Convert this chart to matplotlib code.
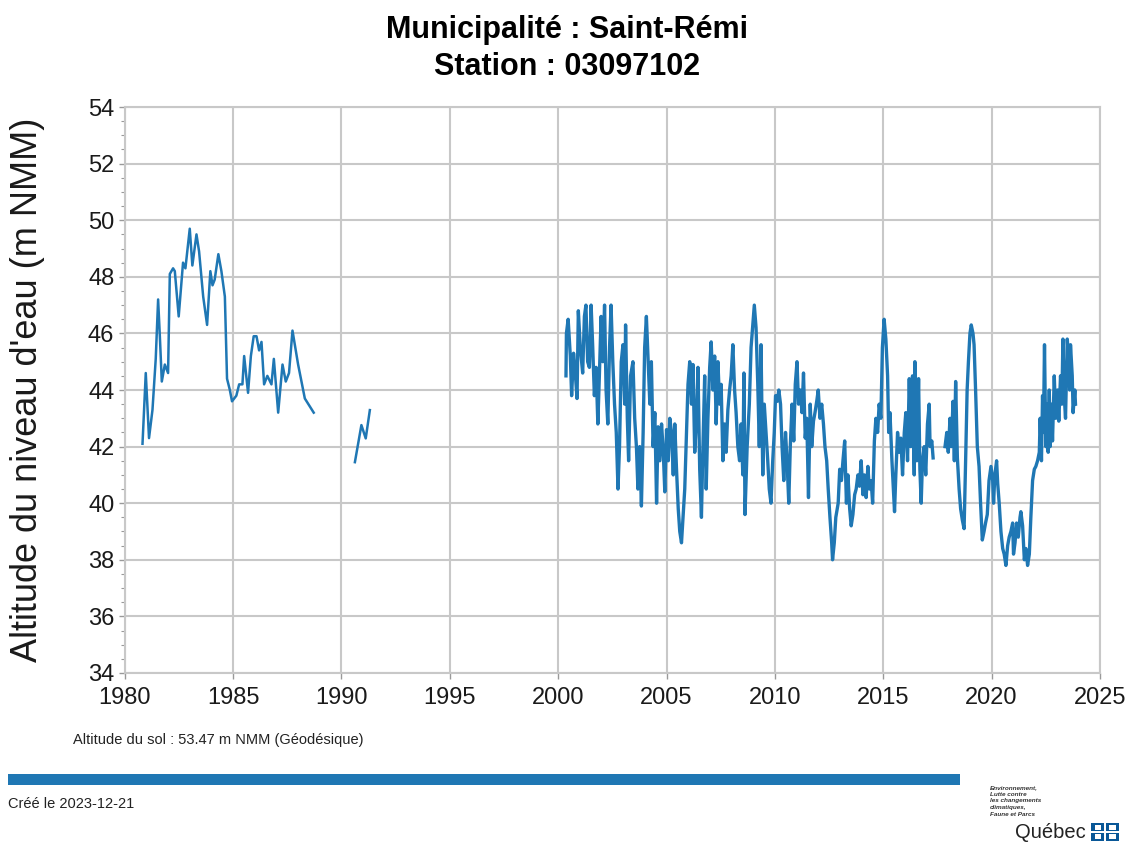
import numpy as np
import matplotlib
matplotlib.use("Agg")
import matplotlib.pyplot as plt
from matplotlib.patches import Rectangle
from matplotlib.ticker import MultipleLocator

plt.rcParams['font.family'] = ['Liberation Sans', 'DejaVu Sans']

# water level readings (m NMM)
years_1980s = [1980.82, 1980.97, 1981.12, 1981.28, 1981.43, 1981.54, 1981.62, 1981.71, 1981.85, 1982.0,
               1982.08, 1982.23, 1982.31, 1982.49, 1982.69, 1982.8, 1983.0, 1983.12, 1983.31, 1983.43,
               1983.62, 1983.8, 1983.95, 1984.05, 1984.15, 1984.32, 1984.46, 1984.62, 1984.72, 1984.85,
               1984.95, 1985.15, 1985.28, 1985.43, 1985.51, 1985.69, 1985.82, 1985.95, 1986.08, 1986.2,
               1986.31, 1986.43, 1986.58, 1986.77, 1986.88, 1987.08, 1987.28, 1987.43, 1987.58, 1987.74,
               1988.0, 1988.31, 1988.72]
level_1980s = [42.1, 44.6, 42.3, 43.3, 45.1, 47.2, 45.9, 44.3, 44.9, 44.6,
               48.1, 48.3, 48.2, 46.6, 48.5, 48.3, 49.7, 48.4, 49.5, 48.9,
               47.3, 46.3, 48.2, 47.7, 47.9, 48.8, 48.2, 47.3, 44.4, 44.0,
               43.6, 43.8, 44.2, 44.2, 45.2, 43.9, 45.2, 45.9, 45.9, 45.4,
               45.7, 44.2, 44.5, 44.2, 45.1, 43.2, 44.9, 44.3, 44.6, 46.1,
               44.9, 43.7, 43.2]

years_1990s = [1990.62, 1990.92, 1991.12, 1991.31]
level_1990s = [41.45, 42.76, 42.29, 43.29]

years_2000s = [2000.36, 2000.38, 2000.46, 2000.56, 2000.62, 2000.71, 2000.77, 2000.87, 2000.93, 2001.02,
               2001.13, 2001.21, 2001.28, 2001.36, 2001.44, 2001.52, 2001.59, 2001.67, 2001.75, 2001.83,
               2001.90, 2001.98, 2002.06, 2002.14, 2002.21, 2002.29, 2002.37, 2002.44, 2002.52, 2002.60,
               2002.68, 2002.76, 2002.83, 2002.91, 2002.99, 2003.07, 2003.11, 2003.19, 2003.25, 2003.34,
               2003.45, 2003.53, 2003.61, 2003.68, 2003.76, 2003.84, 2003.92, 2003.99, 2004.07, 2004.15,
               2004.23, 2004.30, 2004.38, 2004.46, 2004.54, 2004.61, 2004.69, 2004.77, 2004.85, 2004.92,
               2005.00, 2005.08, 2005.15, 2005.23, 2005.31, 2005.38, 2005.46, 2005.54, 2005.61, 2005.69,
               2005.76, 2005.84, 2005.92, 2005.99, 2006.07, 2006.15, 2006.22, 2006.30, 2006.38, 2006.45,
               2006.53, 2006.61, 2006.68, 2006.76, 2006.83, 2006.91, 2006.99, 2007.06, 2007.14, 2007.22,
               2007.29, 2007.37, 2007.45, 2007.52, 2007.60, 2007.68, 2007.75, 2007.83, 2007.91, 2007.98,
               2008.06, 2008.14, 2008.21, 2008.29, 2008.37, 2008.44, 2008.52, 2008.57, 2008.62, 2008.72,
               2008.82, 2008.90, 2008.98, 2009.05, 2009.13, 2009.21, 2009.28, 2009.36, 2009.44, 2009.51,
               2009.59, 2009.67, 2009.74, 2009.82, 2009.90, 2009.97, 2010.03, 2010.11, 2010.18, 2010.26,
               2010.33, 2010.41, 2010.49, 2010.56, 2010.64, 2010.71, 2010.79, 2010.87, 2010.94, 2011.02,
               2011.09, 2011.17, 2011.25, 2011.32, 2011.40, 2011.47, 2011.55, 2011.63, 2011.70, 2011.78,
               2011.85, 2011.93, 2012.00, 2012.08, 2012.16, 2012.24, 2012.31, 2012.39, 2012.46, 2012.54,
               2012.62, 2012.66, 2012.74, 2012.81, 2012.92, 2012.99, 2013.07, 2013.14, 2013.22, 2013.30,
               2013.37, 2013.45, 2013.52, 2013.60, 2013.68, 2013.75, 2013.83, 2013.90, 2013.98, 2014.06,
               2014.13, 2014.21, 2014.29, 2014.36, 2014.44, 2014.51, 2014.59, 2014.66, 2014.74, 2014.81,
               2014.89, 2014.96, 2015.04, 2015.12, 2015.20, 2015.25, 2015.31, 2015.40, 2015.48, 2015.52,
               2015.58, 2015.66, 2015.74, 2015.81, 2015.89, 2015.97, 2016.04, 2016.12, 2016.20, 2016.27,
               2016.35, 2016.43, 2016.46, 2016.50, 2016.55, 2016.63, 2016.69, 2016.75, 2016.81, 2016.89,
               2016.96, 2017.04, 2017.12, 2017.16, 2017.24, 2017.30]
level_2000s = [44.5, 46.0, 46.5, 45.2, 43.8, 45.3, 44.8, 43.7, 46.8, 45.5,
               44.6, 46.6, 47.0, 45.0, 44.8, 47.0, 45.6, 43.8, 44.8, 42.8,
               44.5, 46.6, 45.0, 47.0, 44.0, 42.8, 45.5, 47.0, 45.0, 43.5,
               42.5, 40.5, 42.0, 45.0, 45.6, 43.5, 46.3, 43.0, 41.5, 44.5,
               45.0, 43.0, 42.0, 40.5, 42.0, 39.9, 42.5, 45.5, 46.6, 45.0,
               43.5, 45.0, 42.0, 43.2, 40.0, 42.7, 41.5, 42.8, 41.8, 40.4,
               42.6, 41.5, 43.0, 42.5, 41.0, 42.8, 41.2, 39.8, 39.0, 38.6,
               39.5, 40.5, 42.5, 44.2, 45.0, 43.5, 44.9, 41.8, 43.0, 44.8,
               41.2, 39.5, 42.0, 44.5, 40.5, 43.0, 44.8, 45.7, 44.0, 45.2,
               42.8, 45.0, 43.5, 44.2, 41.5, 42.8, 41.8, 43.3, 44.0, 44.5,
               45.6, 44.0, 43.2, 42.0, 41.5, 42.8, 41.0, 44.6, 39.6, 42.0,
               43.5, 45.5, 46.3, 47.0, 46.2, 44.2, 42.0, 45.6, 41.0, 43.5,
               42.5, 41.5, 40.5, 40.0, 41.5, 42.5, 43.8, 43.6, 44.0, 43.5,
               42.0, 40.8, 42.5, 41.5, 40.0, 42.0, 43.5, 42.2, 44.2, 45.0,
               43.5, 44.0, 43.2, 44.6, 42.3, 43.0, 40.2, 43.5, 42.0, 42.9,
               43.2, 43.6, 44.0, 43.0, 43.5, 42.8, 42.0, 41.5, 40.5, 39.5,
               38.6, 38.0, 38.6, 39.5, 40.0, 41.2, 40.8, 41.5, 42.2, 40.0,
               41.0, 39.8, 39.2, 39.6, 40.3, 40.5, 41.0, 40.6, 41.5, 40.3,
               41.0, 40.2, 41.3, 40.5, 40.8, 40.0, 42.2, 43.0, 42.5, 43.5,
               43.0, 45.5, 46.5, 45.8, 44.5, 42.5, 43.2, 41.5, 40.3, 39.7,
               41.0, 42.5, 41.8, 42.3, 41.0, 42.5, 43.2, 41.5, 44.4, 42.0,
               44.5, 41.0, 45.0, 44.0, 41.5, 44.4, 41.2, 40.0, 41.5, 42.0,
               41.0, 42.8, 43.5, 42.0, 42.2, 41.6]

years_2018 = [2017.85, 2017.93, 2018.00, 2018.08, 2018.14, 2018.22, 2018.28, 2018.34, 2018.42, 2018.50,
              2018.57, 2018.65, 2018.73, 2018.80, 2018.87, 2018.93, 2019.00, 2019.06, 2019.14, 2019.19,
              2019.26, 2019.34, 2019.42, 2019.49, 2019.57, 2019.65, 2019.72, 2019.80, 2019.88, 2019.97,
              2020.05, 2020.09, 2020.15, 2020.23, 2020.28, 2020.35, 2020.43, 2020.51, 2020.58, 2020.66,
              2020.74, 2020.81, 2020.89, 2020.97, 2021.01, 2021.08, 2021.15, 2021.23, 2021.31, 2021.35,
              2021.43, 2021.51, 2021.58, 2021.66, 2021.74, 2021.81, 2021.89, 2021.97, 2022.04, 2022.12,
              2022.20, 2022.24, 2022.30, 2022.35, 2022.39, 2022.44, 2022.50, 2022.55, 2022.61, 2022.66,
              2022.70, 2022.76, 2022.81, 2022.89, 2022.96, 2023.04, 2023.10, 2023.18, 2023.24, 2023.29,
              2023.35, 2023.41, 2023.49, 2023.56, 2023.60, 2023.64, 2023.72, 2023.76, 2023.84, 2023.87]
level_2018 = [42.0, 42.5, 41.8, 43.0, 42.0, 43.6, 41.5, 44.3, 41.6, 40.5,
              39.8, 39.4, 39.1, 41.5, 44.0, 45.0, 46.0, 46.3, 46.0, 45.6,
              44.0, 42.0, 41.3, 40.0, 38.7, 39.0, 39.3, 39.6, 40.8, 41.3,
              40.8, 40.0, 41.0, 41.5, 40.7, 40.0, 39.0, 38.4, 38.2, 37.8,
              38.5, 38.8, 39.0, 39.3, 38.2, 38.6, 39.3, 38.8, 39.5, 39.7,
              39.2, 38.0, 38.4, 37.8, 38.2, 39.5, 40.8, 41.2, 41.3, 41.5,
              41.8, 43.0, 41.5, 43.8, 42.5, 45.6, 42.0, 43.5, 41.8, 44.0,
              42.0, 43.5, 42.2, 44.5, 43.0, 44.0, 42.9, 44.5, 43.5, 45.8,
              43.8, 43.0, 45.8, 45.0, 44.0, 45.6, 44.5, 43.2, 44.0, 43.5]

line_color = '#1f77b4'

fig = plt.figure(figsize=(11.34, 8.46), dpi=100)
ax = fig.add_axes([0.110, 0.2045, 0.860, 0.669])

ax.plot(years_1980s, level_1980s, color=line_color, lw=1.8)
ax.plot(years_1990s, level_1990s, color=line_color, lw=1.8)
ax.plot(years_2000s, level_2000s, color=line_color, lw=2.4)
ax.plot(years_2018, level_2018, color=line_color, lw=2.4)

ax.set_xlim(1980, 2025)
ax.set_ylim(34, 54)
ax.xaxis.set_major_locator(MultipleLocator(5))
ax.yaxis.set_major_locator(MultipleLocator(2))
ax.yaxis.set_minor_locator(MultipleLocator(0.5))
ax.grid(True, which='major', color='#c8c8c8', lw=1.5)
ax.set_axisbelow(True)
for s in ax.spines.values():
    s.set_color('#c8c8c8')
    s.set_linewidth(1.5)
ax.tick_params(axis='both', which='major', labelsize=17, colors='#999999',
               labelcolor='#1a1a1a', length=4, width=1)
ax.tick_params(axis='x', which='major', pad=6)
ax.tick_params(axis='y', which='minor', length=3, width=0.8, colors='#999999')
ax.set_ylabel("Altitude du niveau d'eau (m NMM)", fontsize=26, color='#1a1a1a', va='center')
ax.yaxis.set_label_coords(-0.1, 0.5)

fig.text(0.5, 0.965, 'Municipalité : Saint-Rémi', ha='center', va='center',
         fontsize=22, fontweight='bold')
fig.text(0.5, 0.921, 'Station : 03097102', ha='center', va='center',
         fontsize=22, fontweight='bold')

fig.text(0.064, 0.125, 'Altitude du sol : 53.47 m NMM (Géodésique)', ha='left', va='center',
         fontsize=10.5, color='#222222')
fig.add_artist(Rectangle((0.007, 0.0721), 0.840, 0.013, transform=fig.transFigure,
                         color='#1f77b4', lw=0))
fig.text(0.007, 0.050, 'Créé le 2023-12-21', ha='left', va='center',
         fontsize=10.5, color='#222222')

# logo block
logo_lines = ['Environnement,', 'Lutte contre', 'les changements', 'climatiques,', 'Faune et Parcs']
for i, t in enumerate(logo_lines):
    fig.text(0.873, 0.069 - i * 0.0078, t, ha='left', va='center', fontsize=4.6,
             fontweight='bold', style='italic', color='#333333')
fig.text(0.895, 0.016, 'Québec', ha='left', va='center', fontsize=14.5, color='#222222')
fx, fy, fw, fh = 0.962, 0.006, 0.025, 0.021
fig.add_artist(Rectangle((fx, fy), fw, fh, transform=fig.transFigure, color='#095797', lw=0))
fig.add_artist(Rectangle((fx + fw / 2 - 0.0012, fy), 0.0024, fh, transform=fig.transFigure,
                         color='white', lw=0))
fig.add_artist(Rectangle((fx, fy + fh / 2 - 0.0016), fw, 0.0032, transform=fig.transFigure,
                         color='white', lw=0))
for dx in (0.25, 0.75):
    for dy in (0.25, 0.75):
        fig.add_artist(Rectangle((fx + fw * dx - 0.003, fy + fh * dy - 0.0025), 0.006, 0.005,
                                 transform=fig.transFigure, color='white', lw=0))

fig.savefig('out.png', dpi=100)
